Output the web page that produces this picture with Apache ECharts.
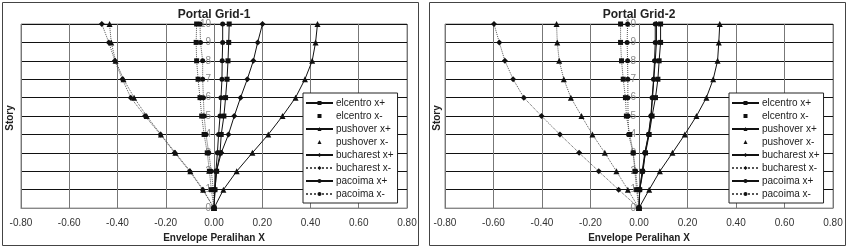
<!DOCTYPE html>
<html>
<head>
<meta charset="utf-8">
<script src="https://cdn.jsdelivr.net/npm/echarts@6/dist/echarts.min.js"></script>
<style>
  html, body { margin: 0; padding: 0; background: #fff; }
  #chart { width: 854px; height: 248px; }
</style>
</head>
<body>
<div id="chart"></div>
<script>
// lantai (story) 0..10
const stories = [0, 1, 2, 3, 4, 5, 6, 7, 8, 9, 10];
const xTicks = [-0.8, -0.6, -0.4, -0.2, 0, 0.2, 0.4, 0.6, 0.8];
const seriesNames = ['elcentro x+', 'elcentro x-', 'pushover x+', 'pushover x-',
  'bucharest x+', 'bucharest x-', 'pacoima x+', 'pacoima x-'];
const chartTitles = ['Portal Grid-1', 'Portal Grid-2'];

// Portal Grid-1
const g1ElcentroPlus = [0, 0.004, 0.011, 0.025, 0.030, 0.041, 0.048, 0.054, 0.058, 0.061, 0.063];
const g1ElcentroMinus = [0, -0.011, -0.019, -0.028, -0.041, -0.051, -0.058, -0.066, -0.072, -0.074, -0.072];
const g1PushoverPlus = [0, 0.039, 0.094, 0.159, 0.225, 0.284, 0.338, 0.377, 0.407, 0.421, 0.429];
const g1PushoverMinus = [0, -0.045, -0.098, -0.160, -0.220, -0.279, -0.331, -0.375, -0.408, -0.426, -0.433];
const g1BucharestPlus = [0, 0.004, 0.010, 0.030, 0.060, 0.084, 0.110, 0.138, 0.163, 0.181, 0.201];
const g1BucharestMinus = [0, -0.047, -0.101, -0.163, -0.222, -0.286, -0.345, -0.380, -0.411, -0.436, -0.465];
const g1PacoimaPlus = [0, 0.003, 0.008, 0.014, 0.019, 0.025, 0.029, 0.033, 0.034, 0.036, 0.036];
const g1PacoimaMinus = [0, -0.003, -0.011, -0.022, -0.033, -0.041, -0.044, -0.047, -0.047, -0.056, -0.058];

// Portal Grid-2
const g2ElcentroPlus = [0, 0.003, 0.014, 0.027, 0.042, 0.054, 0.068, 0.078, 0.083, 0.089, 0.089];
const g2ElcentroMinus = [0, -0.010, -0.017, -0.024, -0.038, -0.052, -0.056, -0.065, -0.072, -0.076, -0.076];
const g2PushoverPlus = [0, 0.042, 0.086, 0.138, 0.189, 0.237, 0.278, 0.306, 0.324, 0.329, 0.333];
const g2PushoverMinus = [0, -0.046, -0.093, -0.141, -0.192, -0.237, -0.281, -0.310, -0.329, -0.337, -0.340];
const g2BucharestPlus = [0, 0.003, 0.017, 0.025, 0.040, 0.050, 0.056, 0.061, 0.067, 0.072, 0.072];
const g2BucharestMinus = [0, -0.084, -0.166, -0.247, -0.326, -0.402, -0.475, -0.519, -0.553, -0.576, -0.598];
const g2PacoimaPlus = [0, 0.003, 0.013, 0.024, 0.039, 0.049, 0.054, 0.060, 0.064, 0.067, 0.067];
const g2PacoimaMinus = [0, -0.006, -0.014, -0.024, -0.043, -0.045, -0.046, -0.046, -0.047, -0.049, -0.047];

const grid1Data = [g1ElcentroPlus, g1ElcentroMinus, g1PushoverPlus, g1PushoverMinus,
  g1BucharestPlus, g1BucharestMinus, g1PacoimaPlus, g1PacoimaMinus];
const grid2Data = [g2ElcentroPlus, g2ElcentroMinus, g2PushoverPlus, g2PushoverMinus,
  g2BucharestPlus, g2BucharestMinus, g2PacoimaPlus, g2PacoimaMinus];

// gaya tiap seri: simbol, ukuran, jenis garis
const styles = [
  { symbol: 'rect', size: 5, line: 'solid' },
  { symbol: 'rect', size: 5, line: 'dotted' },
  { symbol: 'triangle', size: 6, line: 'solid' },
  { symbol: 'triangle', size: 6, line: 'dotted' },
  { symbol: 'diamond', size: 6, line: 'solid' },
  { symbol: 'diamond', size: 6, line: 'dotted' },
  { symbol: 'circle', size: 5, line: 'solid' },
  { symbol: 'circle', size: 5, line: 'dotted' }
];

const grids = [
  { left: 21, top: 24, width: 386, height: 188 },
  { left: 445, top: 24, width: 388, height: 188 }
];

const FONT = 'Liberation Sans, Arial, sans-serif';

function makeSeries(dataSets, idx) {
  return dataSets.map((vals, i) => ({
    name: seriesNames[i],
    type: 'line',
    xAxisIndex: idx,
    yAxisIndex: idx,
    data: vals.map((v, k) => [v, stories[k]]),
    symbol: styles[i].symbol,
    symbolSize: styles[i].size,
    showSymbol: true,
    animation: false,
    silent: true,
    itemStyle: { color: '#111' },
    lineStyle: { color: styles[i].line === 'solid' ? '#111' : '#555', width: 1, type: styles[i].line }
  }));
}

function makeLegend(left) {
  return {
    orient: 'vertical',
    left: left,
    top: 93,
    padding: [5, 4, 4, 2],
    itemWidth: 27,
    itemHeight: 5,
    itemGap: 3,
    selectedMode: false,
    backgroundColor: '#fff',
    borderColor: '#222',
    borderWidth: 1,
    borderRadius: 0,
    textStyle: { fontFamily: FONT, fontSize: 10, color: '#222', padding: [0, 0, 0, -2] },
    data: seriesNames.map((n, i) => (
      (i === 1 || i === 3) ? { name: n, lineStyle: { opacity: 0 } } : { name: n }
    ))
  };
}

function makeXAxis(idx) {
  return {
    type: 'value',
    gridIndex: idx,
    min: -0.8,
    max: 0.8,
    interval: 0.2,
    name: 'Envelope Peralihan X',
    nameLocation: 'middle',
    nameGap: 21,
    nameTextStyle: { fontFamily: FONT, fontSize: 10, fontWeight: 'bold', color: '#222' },
    axisLine: { onZero: false, lineStyle: { color: '#888' } },
    axisTick: { show: false },
    axisLabel: {
      fontFamily: FONT, fontSize: 10, color: '#333', margin: 10,
      formatter: v => {
        const t = xTicks.find(x => Math.abs(x - v) < 1e-9);
        return (t !== undefined ? t : v).toFixed(2);
      }
    },
    splitLine: { show: true, lineStyle: { color: '#777', width: 1 } }
  };
}

// sumbu Y digeser ke x = 0 (tengah grid)
function makeYAxis(idx) {
  return {
    type: 'value',
    gridIndex: idx,
    min: 0,
    max: 10,
    interval: 1,
    position: 'left',
    offset: -grids[idx].width / 2,
    axisLine: { show: true, onZero: false, lineStyle: { color: '#777' } },
    axisTick: { show: false },
    axisLabel: { fontFamily: FONT, fontSize: 10, color: '#888', margin: 3 },
    splitLine: { show: true, lineStyle: { color: '#111', width: 1 } }
  };
}

const chart = echarts.init(document.getElementById('chart'), null, { renderer: 'canvas' });

chart.setOption({
  animation: false,
  backgroundColor: '#fff',
  textStyle: { fontFamily: FONT },
  grid: grids.map(g => Object.assign({ show: true, borderColor: '#888', borderWidth: 1, backgroundColor: 'transparent' }, g)),
  xAxis: [makeXAxis(0), makeXAxis(1)],
  yAxis: [makeYAxis(0), makeYAxis(1)],
  legend: [makeLegend(303), makeLegend(729)],
  graphic: [
    { type: 'rect', silent: true, z: -1, shape: { x: 2.5, y: 2.5, width: 416, height: 243 }, style: { fill: 'none', stroke: '#444', lineWidth: 1 } },
    { type: 'rect', silent: true, z: -1, shape: { x: 429.5, y: 2.5, width: 416, height: 243 }, style: { fill: 'none', stroke: '#444', lineWidth: 1 } },
    { type: 'text', silent: true, x: 214, y: 15, style: { text: chartTitles[0], font: 'bold 12px ' + FONT, fill: '#222', align: 'center', verticalAlign: 'middle' } },
    { type: 'text', silent: true, x: 639, y: 15, style: { text: chartTitles[1], font: 'bold 12px ' + FONT, fill: '#222', align: 'center', verticalAlign: 'middle' } },
    { type: 'text', silent: true, x: 10, y: 118, rotation: Math.PI / 2, style: { text: 'Story', font: 'bold 10px ' + FONT, fill: '#222', align: 'center', verticalAlign: 'middle' } },
    { type: 'text', silent: true, x: 437, y: 118, rotation: Math.PI / 2, style: { text: 'Story', font: 'bold 10px ' + FONT, fill: '#222', align: 'center', verticalAlign: 'middle' } }
  ],
  series: makeSeries(grid1Data, 0).concat(makeSeries(grid2Data, 1))
});
</script>
</body>
</html>
